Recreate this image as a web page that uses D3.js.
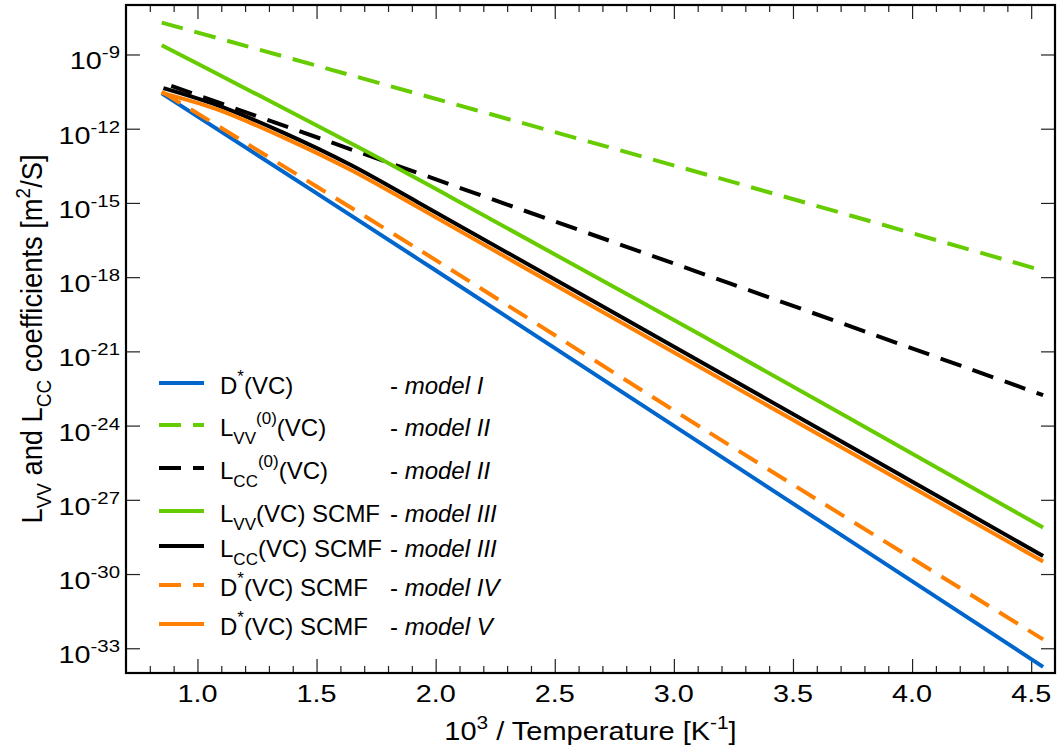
<!DOCTYPE html>
<html>
<head>
<meta charset="utf-8">
<script src="https://cdn.jsdelivr.net/npm/d3@7"></script>
<style>
  html, body { margin: 0; padding: 0; background: #fff; }
  svg { display: block; font-family: "Liberation Sans", Arial, Helvetica, sans-serif; }
</style>
</head>
<body>
<svg id="chart" width="1058" height="751"></svg>
<script>
// ---------- data (x = 10^3/T, y = log10 of coefficient in m^2/S) ----------
const xMajorTicks = [1.0, 1.5, 2.0, 2.5, 3.0, 3.5, 4.0, 4.5];
const xTickLabels = ["1.0", "1.5", "2.0", "2.5", "3.0", "3.5", "4.0", "4.5"];
const yTickExponents = [-9, -12, -15, -18, -21, -24, -27, -30, -33];

const dStarModelI_x   = [0.85, 1.93, 3.11, 4.55];
const dStarModelI_y   = [-10.57, -17.29, -24.70, -33.75];

const lvv0ModelII_x   = [0.85, 3.19, 4.55];
const lvv0ModelII_y   = [-7.71, -14.00, -17.74];

const lcc0ModelII_x   = [0.89, 3.19, 4.55];
const lcc0ModelII_y   = [-10.27, -18.10, -22.77];

const lvvScmfIII_x    = [0.85, 1.05, 1.71, 2.06, 3.11, 4.55];
const lvvScmfIII_y    = [-8.63, -9.62, -12.92, -14.75, -20.32, -28.12];

const lccScmfIII_x    = [0.857, 1.08, 1.36, 1.64, 1.93, 3.19, 4.55];
const lccScmfIII_y    = [-10.36, -11.04, -12.16, -13.45, -15.00, -21.84, -29.27];

const dStarScmfIV_x   = [0.85, 1.93, 3.11, 4.55];
const dStarScmfIV_y   = [-10.50, -16.89, -24.05, -32.64];

const dStarScmfV_x    = [0.85, 1.08, 1.36, 1.64, 1.93, 3.19, 4.55];
const dStarScmfV_y    = [-10.55, -11.21, -12.35, -13.65, -15.20, -22.08, -29.49];

// ---------- series definitions (styles) ----------
const BLUE = "#0066cc", GREEN = "#66cc00", ORANGE = "#ff8000", BLACK = "#000000";
const series = [
  { xs: dStarModelI_x, ys: dStarModelI_y, color: BLUE,   dash: null,
    label: [["D",""],["*","sup"],["(VC)",""]], model: "model I" },
  { xs: lvv0ModelII_x, ys: lvv0ModelII_y, color: GREEN,  dash: "22,12",
    label: [["L",""],["VV","sub"],["(0)","supAfterSub"],["(VC)",""]], model: "model II" },
  { xs: lcc0ModelII_x, ys: lcc0ModelII_y, color: BLACK,  dash: "22,12",
    label: [["L",""],["CC","sub"],["(0)","supAfterSub"],["(VC)",""]], model: "model II" },
  { xs: lvvScmfIII_x,  ys: lvvScmfIII_y,  color: GREEN,  dash: null,
    label: [["L",""],["VV","sub"],["(VC) SCMF","back"]], model: "model III" },
  { xs: lccScmfIII_x,  ys: lccScmfIII_y,  color: BLACK,  dash: null,
    label: [["L",""],["CC","sub"],["(VC) SCMF","back"]], model: "model III" },
  { xs: dStarScmfIV_x, ys: dStarScmfIV_y, color: ORANGE, dash: "22,12",
    label: [["D",""],["*","sup"],["(VC) SCMF","back"]], model: "model IV" },
  { xs: dStarScmfV_x,  ys: dStarScmfV_y,  color: ORANGE, dash: null,
    label: [["D",""],["*","sup"],["(VC) SCMF","back"]], model: "model V" }
];

// ---------- layout ----------
const svg = d3.select("#chart");
const L = 126, R = 1055, T = 5, B = 673;
const x = d3.scaleLinear().domain([0.7, 4.6]).range([L, R]);
const y = d3.scaleLog().domain([1e-34, 1e-7]).range([B, T]);

const FS = 24, SFS = 17;
const STRETCH = 1.2;

// ---------- axes (ticks inward, mirrored) ----------
const minorTicks = d3.range(8, 46).map(v => v / 10).filter(v => !xMajorTicks.some(m => Math.abs(m - v) < 1e-9));
const yTickVals = yTickExponents.map(e => Math.pow(10, e));

function styleAxis(g) {
  g.select(".domain").remove();
  g.selectAll(".tick line").attr("stroke", "#222").attr("stroke-width", 1.2);
  g.selectAll(".tick text").remove();
}
svg.append("g").attr("transform", `translate(0,${B})`)
  .call(d3.axisBottom(x).tickValues(xMajorTicks).tickSize(-14)).call(styleAxis);
svg.append("g").attr("transform", `translate(0,${B})`)
  .call(d3.axisBottom(x).tickValues(minorTicks).tickSize(-7)).call(styleAxis);
svg.append("g").attr("transform", `translate(0,${T})`)
  .call(d3.axisTop(x).tickValues(xMajorTicks).tickSize(-14)).call(styleAxis);
svg.append("g").attr("transform", `translate(0,${T})`)
  .call(d3.axisTop(x).tickValues(minorTicks).tickSize(-7)).call(styleAxis);
svg.append("g").attr("transform", `translate(${L},0)`)
  .call(d3.axisLeft(y).tickValues(yTickVals).tickSize(-14)).call(styleAxis);
svg.append("g").attr("transform", `translate(${R},0)`)
  .call(d3.axisRight(y).tickValues(yTickVals).tickSize(-14)).call(styleAxis);

// x tick labels
svg.append("g").selectAll("text").data(xMajorTicks).join("text")
  .attr("transform", d => `translate(${x(d)},${B + 29}) scale(${STRETCH},1)`)
  .attr("text-anchor", "middle").attr("font-size", FS)
  .text((d, i) => xTickLabels[i]);

// y tick labels 10^e
const yl = svg.append("g").selectAll("text").data(yTickExponents).join("text")
  .attr("transform", d => `translate(120,${y(Math.pow(10, d)) + 15}) scale(${STRETCH},1)`)
  .attr("text-anchor", "end").attr("font-size", FS);
yl.append("tspan").text("10");
yl.append("tspan").attr("dy", -11).attr("font-size", SFS).text(d => String(d));

// ---------- lines ----------
svg.append("clipPath").attr("id", "plotclip")
  .append("rect").attr("x", L).attr("y", T).attr("width", R - L).attr("height", B - T);
const line = d3.line().x(d => x(d[0])).y(d => y(Math.pow(10, d[1]))).curve(d3.curveCatmullRom.alpha(0.5));
const lg = svg.append("g").attr("clip-path", "url(#plotclip)");
series.forEach(s => {
  lg.append("path")
    .datum(s.xs.map((v, i) => [v, s.ys[i]]))
    .attr("d", line)
    .attr("fill", "none")
    .attr("stroke", s.color)
    .attr("stroke-width", 4)
    .attr("stroke-dasharray", s.dash);
});

// frame
svg.append("rect").attr("x", L).attr("y", T).attr("width", R - L).attr("height", B - T)
  .attr("fill", "none").attr("stroke", "#000").attr("stroke-width", 2.2);

// ---------- legend ----------
const legendRowsY = [383, 425, 468, 511, 546, 585, 624];
const leg = svg.append("g");
series.forEach((s, i) => {
  const ly = legendRowsY[i];
  leg.append("line").attr("x1", 159).attr("x2", 204).attr("y1", ly).attr("y2", ly)
    .attr("stroke", s.color).attr("stroke-width", 4).attr("stroke-dasharray", s.dash);
  const t = leg.append("text").attr("x", 220).attr("y", ly + 11).attr("font-size", FS);
  let shift = 0;
  s.label.forEach(([txt, kind]) => {
    const ts = t.append("tspan").text(txt);
    if (kind === "sup") { ts.attr("dy", -12).attr("font-size", SFS); shift = -12; }
    else if (kind === "sub") { ts.attr("dy", 8).attr("font-size", SFS); shift = 8; }
    else if (kind === "supAfterSub") { ts.attr("dy", -20).attr("font-size", SFS); shift = -12; }
    else if (kind === "back") { ts.attr("dy", -shift); shift = 0; }
    else if (shift !== 0) { ts.attr("dy", -shift); shift = 0; }
  });
  const m = leg.append("text").attr("x", 390).attr("y", ly + 11).attr("font-size", FS);
  m.append("tspan").text("- ");
  m.append("tspan").attr("font-style", "italic").text(s.model);
});

// ---------- axis titles ----------
const xt = svg.append("text")
  .attr("transform", `translate(${(L + R) / 2},740) scale(1.16,1)`)
  .attr("text-anchor", "middle").attr("font-size", 25);
xt.append("tspan").text("10");
xt.append("tspan").attr("dy", -11).attr("font-size", 18).text("3");
xt.append("tspan").attr("dy", 11).text(" / Temperature [K");
xt.append("tspan").attr("dy", -11).attr("font-size", 18).text("-1");
xt.append("tspan").attr("dy", 11).text("]");

const yt = svg.append("text")
  .attr("transform", `translate(42,${(T + B) / 2}) rotate(-90) scale(1.05,1.12)`)
  .attr("text-anchor", "middle").attr("font-size", 26);
yt.append("tspan").text("L");
yt.append("tspan").attr("dy", 8).attr("font-size", 18).text("VV");
yt.append("tspan").attr("dy", -8).text(" and L");
yt.append("tspan").attr("dy", 8).attr("font-size", 18).text("CC");
yt.append("tspan").attr("dy", -8).text(" coefficients [m");
yt.append("tspan").attr("dy", -11).attr("font-size", 18).text("2");
yt.append("tspan").attr("dy", 11).text("/S]");
</script>
</body>
</html>
